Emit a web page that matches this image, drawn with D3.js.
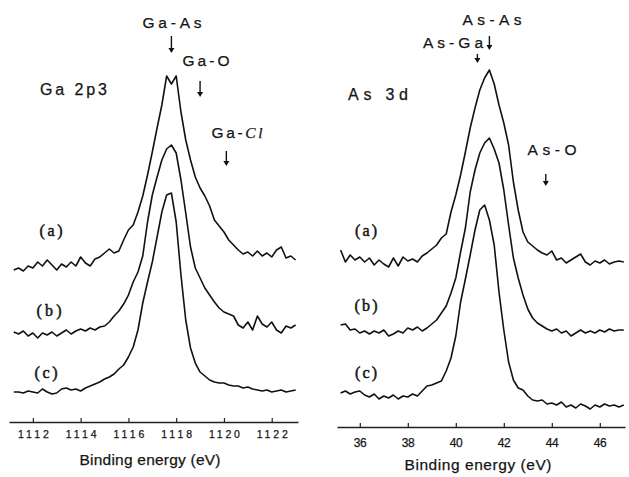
<!DOCTYPE html>
<html lang="en">
<head>
<meta charset="UTF-8">
<title>Ga 2p3 / As 3d XPS</title>
<script src="https://cdn.jsdelivr.net/npm/d3@7"></script>
<style>
  body { margin: 0; background: #fff; }
  text { fill: #151515; stroke: #151515; stroke-width: 0.25px; }
</style>
</head>
<body>
<script>
// ---- data (intensity in arbitrary units, curves offset as printed) ----
const gaEnergy = [1111.2, 1111.4, 1111.6, 1111.8, 1112.0, 1112.2, 1112.4, 1112.6, 1112.8, 1113.0,
    1113.2, 1113.4, 1113.6, 1113.8, 1114.0, 1114.2, 1114.4, 1114.6, 1114.8, 1115.0,
    1115.2, 1115.4, 1115.6, 1115.8, 1116.0, 1116.2, 1116.4, 1116.6, 1116.8, 1117.0,
    1117.2, 1117.4, 1117.6, 1117.8, 1118.0, 1118.2, 1118.4, 1118.6, 1118.8, 1119.0,
    1119.2, 1119.4, 1119.6, 1119.8, 1120.0, 1120.2, 1120.4, 1120.6, 1120.8, 1121.0,
    1121.2, 1121.4, 1121.6, 1121.8, 1122.0, 1122.2, 1122.4, 1122.6, 1122.8, 1123.0]
const gaA = [160, 162, 159, 164, 162, 168, 164, 170, 165, 160, 166, 163, 168, 164, 173, 167, 164, 171, 173, 177,
    181, 177, 179, 190, 200, 205, 218, 234, 255, 278, 302, 325, 354, 346, 354, 318, 290, 270, 253, 242,
    234, 224, 210, 204, 198, 190, 185, 180, 176, 178, 174, 179, 174, 177, 173, 180, 183, 172, 174, 170]
const gaB = [98, 96, 99, 94, 97, 92, 97, 95, 98, 94, 97, 100, 96, 99, 101, 99, 102, 100, 103, 104,
    108, 114, 119, 126, 135, 148, 158, 174, 208, 235, 253, 270, 281, 285, 277, 250, 217, 183, 162, 152,
    142, 135, 128, 122, 118, 116, 114, 105, 102, 108, 100, 114, 106, 103, 108, 100, 97, 104, 102, 105]
const gaC = [38, 38, 37, 39, 38, 37, 41, 38, 36, 37, 41, 42, 40, 41, 39, 42, 44, 46, 48, 51,
    53, 56, 61, 65, 73, 83, 100, 127, 148, 168, 193, 218, 235, 237, 208, 155, 110, 82, 67, 58,
    54, 50, 48, 47, 47, 45, 44, 44, 42, 43, 41, 40, 39, 40, 38, 39, 40, 38, 39, 40]

const asEnergy = [35.2, 35.4, 35.6, 35.8, 36.0, 36.2, 36.4, 36.6, 36.8, 37.0,
    37.2, 37.4, 37.6, 37.8, 38.0, 38.2, 38.4, 38.6, 38.8, 39.0,
    39.2, 39.4, 39.6, 39.8, 40.0, 40.2, 40.4, 40.6, 40.8, 41.0,
    41.2, 41.4, 41.6, 41.8, 42.0, 42.2, 42.4, 42.6, 42.8, 43.0,
    43.2, 43.4, 43.6, 43.8, 44.0, 44.2, 44.4, 44.6, 44.8, 45.0,
    45.2, 45.4, 45.6, 45.8, 46.0, 46.2, 46.4, 46.6, 46.8, 47.0]
const asA = [180, 168, 175, 170, 173, 168, 172, 165, 170, 166, 163, 172, 164, 173, 169, 171, 168, 174, 177, 181,
    185, 192, 196, 218, 235, 255, 278, 302, 322, 340, 352, 360, 346, 325, 307, 285, 248, 220, 198, 188,
    184, 180, 177, 175, 179, 170, 172, 167, 170, 173, 176, 168, 165, 169, 167, 170, 166, 168, 169, 168]
const asB = [105, 106, 100, 101, 97, 99, 96, 99, 97, 100, 94, 96, 99, 97, 102, 100, 103, 99, 102, 106,
    110, 117, 124, 137, 152, 178, 202, 238, 260, 277, 287, 292, 281, 267, 240, 205, 172, 152, 135, 121,
    112, 107, 104, 101, 99, 101, 97, 99, 94, 97, 100, 97, 99, 97, 100, 98, 101, 99, 100, 100]
const asC = [37, 39, 36, 38, 39, 35, 33, 36, 31, 34, 32, 35, 31, 34, 33, 36, 34, 39, 44, 45,
    47, 49, 59, 72, 94, 128, 151, 175, 200, 220, 225, 210, 185, 138, 100, 68, 50, 42, 40, 34,
    30, 29, 30, 26, 27, 25, 28, 23, 25, 22, 26, 24, 21, 25, 23, 26, 24, 25, 23, 25]

const gaTicks = [1112, 1114, 1116, 1118, 1120, 1122]
const asTicks = [36, 38, 40, 42, 44, 46]
const curveNames = ["(a)", "(b)", "(c)"]

// peak markers
const gaMarkNames = ["Ga-As", "Ga-O", "Ga-Cl"]
const gaMarkEnergy = [1117.8, 1119.0, 1120.1]
const asMarkNames = ["As-As", "As-Ga", "As-O"]
const asMarkEnergy = [41.4, 40.9, 43.75]

// ---- drawing ----
let width = 629, height = 477

let svg = d3.select("body").append("svg")
    .attr("width", width)
    .attr("height", height)
    .style("background", "#fff")

let y = d3.scaleLinear().domain([0, 400]).range([430, 30])

let panels = [
    {
        energy: gaEnergy, series: [gaA, gaB, gaC], ticks: gaTicks,
        x: d3.scaleLinear().domain([1111, 1123.1]).range([9, 298]),
        axisY: 422, tickBase: 16, tickFont: 10.5, tickLen: 31,
        title: {x: 150, y: 465, w: 141},
        labels: [{x: 51, y: 230, w: 23}, {x: 49, y: 310, w: 25}, {x: 46, y: 372, w: 23}],
        name: {text: "Ga 2p3", x: 40, y: 89, w: 67},
        marks: gaMarkNames.map((m, i) => ({name: m, e: gaMarkEnergy[i]})),
        markLayout: [
            {tx: 172, ty: 23, w: 59, y1: 36, y2: 53},
            {tx: 206, ty: 61, w: 47, y1: 81, y2: 97},
            {tx: 237, ty: 133, w: 51, y1: 151, y2: 166}
        ]
    },
    {
        energy: asEnergy, series: [asA, asB, asC], ticks: asTicks,
        x: d3.scaleLinear().domain([35.05, 47.05]).range([337, 625]),
        axisY: 427, tickBase: 20, tickFont: 12, tickLen: 13,
        title: {x: 478, y: 470, w: 147},
        labels: [{x: 366, y: 230, w: 22}, {x: 366, y: 305, w: 23}, {x: 366, y: 372, w: 22}],
        name: {text: "As 3d", x: 348, y: 94, w: 60},
        marks: asMarkNames.map((m, i) => ({name: m, e: asMarkEnergy[i]})),
        markLayout: [
            {tx: 492, ty: 20, w: 59, y1: 36, y2: 50},
            {tx: 453, ty: 43, w: 60, y1: 54, y2: 63},
            {tx: 552, ty: 150, w: 49, y1: 174, y2: 186}
        ]
    }
]

panels.forEach(function (p) {
    let line = d3.line()
        .x((d, i) => p.x(p.energy[i]))
        .y(d => y(d))

    svg.append("g").selectAll("path")
        .data(p.series)
        .enter()
        .append("path")
        .attr("d", line)
        .attr("fill", "none")
        .attr("stroke", "#111")
        .attr("stroke-width", 1.6)
        .attr("stroke-linejoin", "round")

    // energy axis, ticks pointing up like the original
    let ax = svg.append("g")
        .attr("transform", "translate(0," + p.axisY + ")")
        .call(d3.axisBottom(p.x).tickValues(p.ticks).tickSizeInner(-4).tickSizeOuter(0).tickFormat(d3.format("d")))
    ax.select(".domain").attr("stroke", "#222").attr("stroke-width", 1.4)
    ax.selectAll(".tick line").attr("stroke", "#222").attr("stroke-width", 1.2)
    ax.selectAll(".tick text")
        .attr("y", p.tickBase).attr("dy", 0)
        .attr("font-family", "Liberation Sans, Arial, sans-serif")
        .attr("font-size", p.tickFont)
        .attr("textLength", p.tickLen).attr("lengthAdjust", "spacing")
        .attr("fill", "#151515")

    svg.append("text")
        .attr("x", p.title.x).attr("y", p.title.y)
        .attr("text-anchor", "middle")
        .attr("font-family", "Liberation Sans, Arial, sans-serif")
        .attr("font-size", 15.5)
        .attr("textLength", p.title.w).attr("lengthAdjust", "spacing")
        .text("Binding energy (eV)")

    // (a) (b) (c)
    svg.append("g").selectAll("text")
        .data(p.labels)
        .enter()
        .append("text")
        .attr("x", d => d.x).attr("y", d => d.y)
        .attr("dy", "0.35em")
        .attr("text-anchor", "middle")
        .attr("font-family", "Liberation Serif, Times New Roman, serif")
        .attr("font-size", 16)
        .style("stroke-width", "0.5px")
        .attr("textLength", d => d.w).attr("lengthAdjust", "spacing")
        .text((d, i) => curveNames[i])

    svg.append("text")
        .attr("x", p.name.x).attr("y", p.name.y)
        .attr("dy", "0.35em")
        .attr("font-family", "Liberation Sans, Arial, sans-serif")
        .attr("font-size", 16)
        .attr("textLength", p.name.w).attr("lengthAdjust", "spacing")
        .text(p.name.text)

    // peak markers with down arrows
    p.marks.forEach(function (m, i) {
        let l = p.markLayout[i]
        let t = svg.append("text")
            .attr("x", l.tx).attr("y", l.ty)
            .attr("dy", "0.35em")
            .attr("text-anchor", "middle")
            .attr("font-family", "Liberation Sans, Arial, sans-serif")
            .attr("font-size", 15.5)
            .attr("textLength", l.w).attr("lengthAdjust", "spacing")
        if (m.name === "Ga-Cl") {
            t.append("tspan").text("Ga-")
            t.append("tspan").attr("font-style", "italic").attr("font-family", "Liberation Serif, serif").text("Cl")
        } else {
            t.text(m.name)
        }
        let ax2 = p.x(m.e)
        svg.append("line")
            .attr("x1", ax2).attr("x2", ax2)
            .attr("y1", l.y1).attr("y2", l.y2 - 3)
            .attr("stroke", "#111").attr("stroke-width", 1.4)
        svg.append("path")
            .attr("d", "M" + (ax2 - 3) + "," + (l.y2 - 5) + "L" + (ax2 + 3) + "," + (l.y2 - 5) + "L" + ax2 + "," + l.y2 + "Z")
            .attr("fill", "#111")
    })
})
</script>
</body>
</html>
